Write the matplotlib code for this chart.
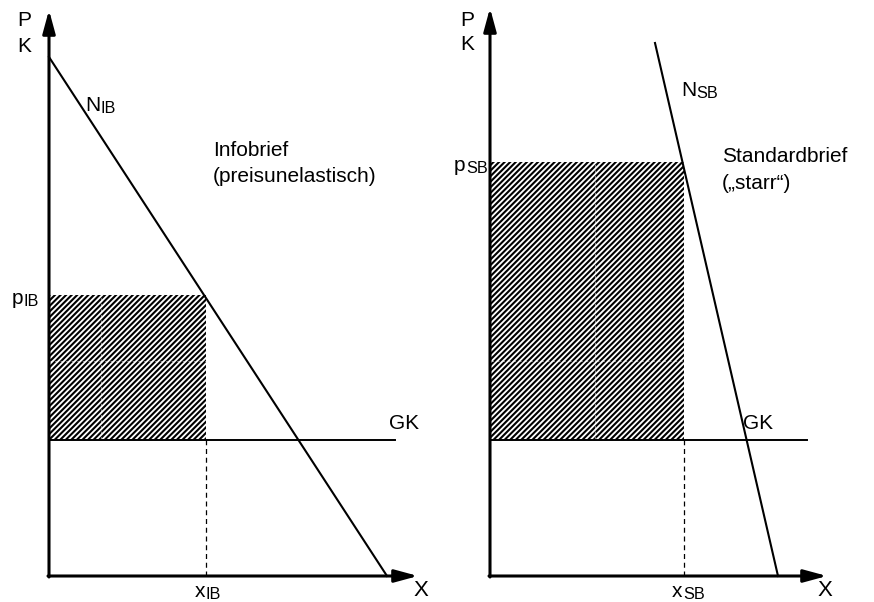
import numpy as np
import matplotlib
matplotlib.use("Agg")
import matplotlib.pyplot as plt
from matplotlib.patches import Rectangle

plt.rcParams['font.family'] = ['Liberation Sans', 'DejaVu Sans']
plt.rcParams['hatch.linewidth'] = 1.5

# economic units (price vs quantity)
# left panel: Infobrief
ib_demand_x = [0.0, 6.76]
ib_demand_p = [10.38, 0.0]
ib_price = 5.62
ib_qty = 3.14
ib_gk = 2.72
ib_gk_end = 6.92
ib_axis_x = 7.38
ib_axis_p = 11.32

# right panel: Standardbrief
sb_demand_x = [3.30, 5.76]
sb_demand_p = [10.66, 0.0]
sb_price = 8.28
sb_qty = 3.88
sb_gk = 2.72
sb_gk_end = 6.34
sb_axis_x = 6.74
sb_axis_p = 11.36

# faint inner grid in the shaded areas
ib_grid = (1.04, 4.30)
sb_grid = (2.10, 4.30)

SCALE = 50.0  # pixels per unit
W, H = 874, 602
FS = 15

fig = plt.figure(figsize=(W / 100, H / 100), dpi=100)


def make_axes(ox, oy):
    ax = fig.add_axes([0, 0, 1, 1])
    ax.set_xlim(-ox / SCALE, (W - ox) / SCALE)
    ax.set_ylim(-(H - oy) / SCALE, oy / SCALE)
    ax.axis('off')
    ax.patch.set_alpha(0)
    return ax


def sub_label(ax, x, y, main, sub, ha='left', va='baseline'):
    t = ax.text(x, y, main, fontsize=FS, ha=ha, va=va)
    ax.annotate(sub, xy=(1, 0), xycoords=t, xytext=(0.2, -0.8),
                textcoords='offset points', fontsize=FS * 0.78,
                ha='left', va='bottom')
    return t


def panel(ax, dem_x, dem_p, price, qty, gk, gk_end, ax_x, ax_p, grid,
          sub, info, info2, pk_x, pk_y, nlab, infopos, gkpos, xpos, plab, xlab):
    # shaded revenue area
    ax.add_patch(Rectangle((0, gk), qty, price - gk, facecolor='white',
                           edgecolor='black', linewidth=0, hatch='//////',
                           zorder=1))
    ax.plot([grid[0], grid[0]], [gk, price], color='white', lw=0.8,
            ls=(0, (3, 2)), alpha=0.5, zorder=2)
    ax.plot([0, qty], [grid[1], grid[1]], color='white', lw=0.8,
            ls=(0, (3, 2)), alpha=0.5, zorder=2)
    # axes arrows
    arr = dict(arrowstyle='-|>,head_length=1.4,head_width=0.38',
               lw=2.2, color='black', mutation_scale=10, shrinkA=0, shrinkB=0)
    ax.annotate('', xy=(0, ax_p), xytext=(0, -0.02), arrowprops=arr, zorder=4)
    ax.annotate('', xy=(ax_x, 0), xytext=(-0.02, 0), arrowprops=arr, zorder=4)
    # demand and cost lines
    ax.plot(dem_x, dem_p, color='black', lw=1.5, zorder=3)
    ax.plot([0, gk_end], [gk, gk], color='black', lw=1.4, zorder=3)
    ax.plot([qty, qty], [0, gk], color='black', lw=0.9, ls=(0, (4, 3)),
            zorder=3)
    ax.text(pk_x, pk_y, 'P', fontsize=FS, ha='left', va='center')
    ax.text(pk_x, pk_y - 0.5, 'K', fontsize=FS, ha='left', va='center')
    sub_label(ax, nlab[0], nlab[1], 'N', sub)
    ax.text(infopos[0], infopos[1], info, fontsize=FS, ha='left',
            va='center')
    ax.text(infopos[0], infopos[1] - 0.53, info2, fontsize=FS, ha='left',
            va='center')
    sub_label(ax, plab[0], plab[1], 'p', sub)
    ax.text(gkpos[0], gkpos[1], 'GK', fontsize=FS, ha='center',
            va='center')
    sub_label(ax, xlab[0], xlab[1], 'x', sub)
    ax.text(xpos[0], xpos[1], 'X', fontsize=FS + 1, ha='center',
            va='center')


ax1 = make_axes(49, 576)
panel(ax1, ib_demand_x, ib_demand_p, ib_price, ib_qty, ib_gk, ib_gk_end,
      ib_axis_x, ib_axis_p, ib_grid, 'IB', 'Infobrief', '(preisunelastisch)',
      -0.64, 11.1, (0.72, 9.3), (3.28, 8.52), (7.1, 3.05), (7.44, -0.28),
      (-0.74, 5.44), (2.92, -0.42))

ax2 = make_axes(490, 576)
panel(ax2, sb_demand_x, sb_demand_p, sb_price, sb_qty, sb_gk, sb_gk_end,
      sb_axis_x, sb_axis_p, sb_grid, 'SB', 'Standardbrief',
      '(\u201estarr\u201c)',
      -0.6, 11.12, (3.82, 9.6), (4.64, 8.38), (5.36, 3.05), (6.70, -0.28),
      (-0.72, 8.1), (3.64, -0.42))

fig.savefig('out.png', dpi=100)
